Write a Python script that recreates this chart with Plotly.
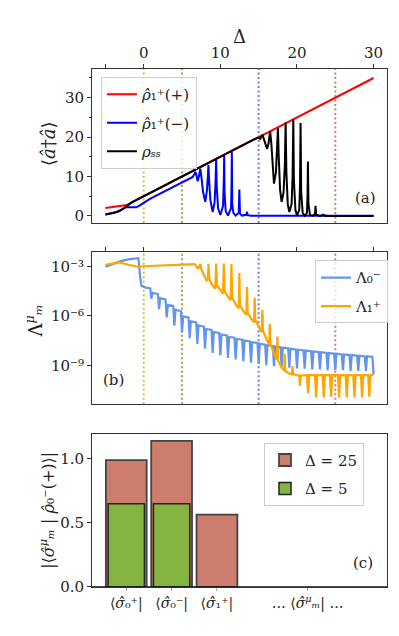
import numpy as np
import plotly.graph_objects as go

# dotted guide lines: detuning and colour
marker_deltas = [0, 5, 15, 25]
marker_colors = ["#c8c840", "#86b440", "#7c7ccf", "#c98070"]

# (a) photon number <a^dag a> vs detuning, (Delta, value)
rho1_plus = [(-5.0, 2.0), (-4.0, 2.3), (-3.0, 2.55), (-2.5, 2.65), (-2.2, 2.8), (-2.0, 3.0),
             (0.0, 5.0), (30.0, 35.0)]

rho1_minus = [(-5.0, 0.35), (-4.5, 0.5), (-4.0, 0.75), (-3.5, 1.05), (-3.0, 1.55), (-2.6, 1.95),
              (-2.2, 2.3), (-1.8, 2.2), (-1.35, 2.1), (-1.0, 2.2), (-0.5, 2.7), (0.0, 3.4),
              (0.5, 3.95), (1.0, 4.5), (3.0, 6.5), (5.0, 8.4), (6.0, 9.4), (6.4, 9.9),
              (6.6, 10.6), (6.75, 11.2), (6.9, 10.2), (7.04, 8.8), (7.2, 10.0), (7.39, 12.0),
              (7.55, 9.5), (7.75, 6.0), (8.03, 3.6), (8.25, 6.5), (8.35, 9.5), (8.45, 12.9),
              (8.55, 8.5), (8.7, 4.0), (9.0, 1.0), (9.25, 3.5), (9.37, 8.5), (9.45, 14.2),
              (9.53, 7.5), (9.7, 2.0), (10.0, 0.25), (10.35, 2.5), (10.45, 9.0), (10.5, 15.3),
              (10.55, 6.0), (10.7, 1.2), (11.0, 0.12), (11.4, 2.0), (11.47, 9.0), (11.5, 16.3),
              (11.55, 3.0), (11.7, 0.8), (12.0, 0.08), (12.4, 0.8), (12.48, 6.7), (12.56, 0.6),
              (12.8, 0.1), (13.4, 0.3), (13.48, 1.1), (13.56, 0.2), (14.0, 0.05), (30.0, 0.05)]

rho_ss = [(-5.0, 0.4), (-4.5, 0.55), (-4.0, 0.75), (-3.5, 1.0), (-3.0, 1.4), (-2.5, 2.1),
          (-2.0, 2.9), (-1.5, 3.5), (0.0, 5.0), (14.9, 19.9), (15.2, 19.55), (15.5, 20.6),
          (15.8, 18.8), (16.1, 17.0), (16.3, 18.5), (16.5, 21.5), (16.65, 18.5), (16.8, 12.5),
          (17.0, 8.2), (17.25, 11.0), (17.42, 16.5), (17.52, 22.3), (17.62, 15.0), (17.8, 6.5),
          (18.0, 3.6), (18.25, 6.0), (18.42, 13.0), (18.52, 23.8), (18.62, 11.0), (18.8, 3.0),
          (19.0, 1.0), (19.3, 3.0), (19.43, 10.0), (19.52, 24.5), (19.6, 9.0), (19.8, 1.5),
          (20.0, 0.15), (20.3, 1.5), (20.4, 8.0), (20.47, 23.6), (20.55, 6.0), (20.75, 0.7),
          (21.0, 0.05), (21.3, 0.8), (21.38, 5.0), (21.43, 13.8), (21.5, 3.0), (21.7, 0.3),
          (22.0, 0.02), (22.35, 0.5), (22.42, 2.6), (22.5, 0.3), (23.0, 0.02), (23.4, 0.2),
          (23.45, 0.45), (23.52, 0.1), (24.0, 0.02), (30.0, 0.02)]

# (b) log10 of the eigenvalue magnitudes, (Delta, log10 value)
lam0_minus = [(-5.0, -3.02), (-4.0, -2.83), (-3.0, -2.68), (-2.0, -2.57), (-1.0, -2.52),
              (-0.7, -2.5), (-0.45, -3.7), (-0.3, -4.17),
              (0.0, -4.24), (0.15, -4.27), (0.85, -4.33),
              (1.0, -4.96), (1.15, -4.6), (1.85, -4.68),
              (2.0, -5.6), (2.15, -4.93), (2.85, -5.02),
              (3.0, -6.1), (3.15, -5.33), (3.85, -5.4),
              (4.0, -6.6), (4.15, -5.63), (4.85, -5.72),
              (5.0, -7.0), (5.15, -6.03), (5.85, -6.1),
              (6.0, -7.35), (6.15, -6.33), (6.85, -6.4),
              (7.0, -7.7), (7.15, -6.58), (7.85, -6.65),
              (8.0, -8.0), (8.15, -6.8), (8.85, -6.86),
              (9.0, -8.25), (9.15, -6.98), (9.85, -7.04),
              (10.0, -8.4), (10.15, -7.13), (10.85, -7.19),
              (11.0, -8.55), (11.15, -7.28), (11.85, -7.33),
              (12.0, -8.65), (12.15, -7.4), (12.85, -7.45),
              (13.0, -8.75), (13.15, -7.5), (13.85, -7.55),
              (14.0, -8.85), (14.15, -7.6), (14.85, -7.65),
              (15.0, -8.9), (15.15, -7.7), (15.85, -7.75),
              (16.0, -9.0), (16.15, -7.78), (16.85, -7.83),
              (17.0, -9.05), (17.15, -7.86), (17.85, -7.9),
              (18.0, -9.1), (18.15, -7.93), (18.85, -7.97),
              (19.0, -9.15), (19.15, -8.0), (19.85, -8.04),
              (20.0, -9.2), (20.15, -8.06), (20.85, -8.1),
              (21.0, -9.2), (21.15, -8.11), (21.85, -8.15),
              (22.0, -9.25), (22.15, -8.16), (22.85, -8.2),
              (23.0, -9.25), (23.15, -8.21), (23.85, -8.25),
              (24.0, -9.3), (24.15, -8.26), (24.85, -8.3),
              (25.0, -9.3), (25.15, -8.3), (25.85, -8.34),
              (26.0, -9.3), (26.15, -8.34), (26.85, -8.38),
              (27.0, -9.35), (27.15, -8.38), (27.85, -8.42),
              (28.0, -9.35), (28.15, -8.42), (28.85, -8.46),
              (29.0, -9.35), (29.15, -8.45), (29.85, -8.5),
              (30.0, -9.55)]

lam1_plus = [(-5.0, -2.9), (-4.0, -2.82), (-3.2, -2.76), (-2.0, -2.9), (-0.8, -3.02), (0.0, -2.99),
             (2.0, -2.94), (4.0, -2.9), (6.6, -2.86),
             (6.85, -2.95), (7.05, -3.15), (7.25, -3.0), (7.4, -2.85),
             (7.5, -3.15), (7.8, -3.5), (8.2, -3.85), (8.38, -3.8), (8.45, -2.85),
             (8.55, -3.75), (8.9, -4.1), (9.35, -4.35), (9.45, -2.82),
             (9.55, -4.15), (10.0, -4.45), (10.35, -4.65), (10.45, -2.82),
             (10.55, -4.5), (11.0, -4.85), (11.35, -5.05), (11.45, -2.85),
             (11.55, -4.9), (12.0, -5.3), (12.4, -5.55), (12.48, -3.4),
             (12.56, -5.35), (13.0, -5.7), (13.4, -5.95), (13.48, -4.25),
             (13.56, -5.8), (14.0, -6.15), (14.4, -6.4), (14.48, -4.9),
             (14.56, -6.25), (15.0, -6.65), (15.4, -7.0), (15.48, -5.65),
             (15.56, -6.9), (16.0, -7.4), (16.38, -7.75), (16.45, -6.5),
             (16.53, -7.7), (17.0, -8.3), (17.38, -8.65), (17.45, -7.25),
             (17.52, -8.7), (18.0, -9.15), (18.33, -9.3), (18.4, -8.3),
             (18.47, -9.35), (19.0, -9.5), (19.35, -9.55), (19.42, -9.05),
             (19.5, -9.55), (20.0, -9.6), (20.3, -9.62), (20.4, -10.25), (20.5, -9.62),
             (21.3, -9.6), (21.45, -10.7), (21.6, -9.6),
             (22.35, -9.6), (22.5, -10.95), (22.65, -9.6),
             (23.35, -9.6), (23.5, -10.95), (23.65, -9.6),
             (24.3, -9.6), (24.45, -10.9), (24.6, -9.6),
             (25.35, -9.6), (25.5, -10.95), (25.65, -9.6),
             (26.35, -9.6), (26.5, -10.95), (26.65, -9.6),
             (27.35, -9.6), (27.5, -10.95), (27.65, -9.6),
             (28.35, -9.6), (28.5, -10.95), (28.65, -9.6),
             (29.3, -9.6), (29.45, -10.9), (29.6, -9.6),
             (30.0, -9.58)]

# (c) overlaps with the left eigenmatrices
bar_slots = [0, 1, 2]
overlap_d25 = [0.99, 1.14, 0.565]
bar_slots_d5 = [0, 1]
overlap_d5 = [0.65, 0.65]
slot_ticks = [0, 1, 2, 4]
slot_labels = ["⟨<i>σ̂</i>₀⁺|", "⟨<i>σ̂</i>₀⁻|", "⟨<i>σ̂</i>₁⁺|",
               "… ⟨<i>σ̂</i><sup><i>μ</i></sup><i>ₘ</i>| …"]

W, H = 399, 636
FONT = "DejaVu Serif"


def xy(points):
    xs, ys = zip(*points)
    return list(xs), list(ys)


def px_x(p):
    return p / W


def px_y(p):
    return 1 - p / H


fig = go.Figure()

# ---- panel (a)
for pts, name, color in [
    (rho1_plus, "<i>ρ̂</i>₁⁺(+)", "#ff0000"),
    (rho1_minus, "<i>ρ̂</i>₁⁺(−)", "#0000ff"),
    (rho_ss, "<i>ρₛₛ</i>", "#000000"),
]:
    x, y = xy(pts)
    fig.add_trace(go.Scatter(x=x, y=y, mode="lines", name=name, legend="legend",
                             legendgroup=name, line=dict(color=color, width=2),
                             xaxis="x", yaxis="y"))

# ---- panel (b)
for pts, name, color in [
    (lam0_minus, "Λ₀⁻", "#6495ed"),
    (lam1_plus, "Λ₁⁺", "#ffa500"),
]:
    x, ly = xy(pts)
    fig.add_trace(go.Scatter(x=x, y=np.power(10.0, ly), mode="lines", name=name, legend="legend2",
                             legendgroup=name, line=dict(color=color, width=2.2),
                             xaxis="x2", yaxis="y2"))

# ---- panel (c)
fig.add_trace(go.Bar(x=bar_slots, y=overlap_d25, width=0.9, name="Δ = 25", legend="legend3",
                     legendgroup="d25", marker=dict(color="#cd7d6e", line=dict(color="#444", width=1.8)),
                     xaxis="x3", yaxis="y3"))
fig.add_trace(go.Bar(x=bar_slots_d5, y=overlap_d5, width=0.8, name="Δ = 5", legend="legend3",
                     legendgroup="d5", marker=dict(color="#86b440", line=dict(color="#222", width=1.5)),
                     xaxis="x3", yaxis="y3"))

# dotted guide lines in (a) and (b)
shapes = []
for d, c in zip(marker_deltas, marker_colors):
    for xr, yr in [("x", "y domain"), ("x2", "y2 domain")]:
        shapes.append(dict(type="line", xref=xr, yref=yr, x0=d, x1=d, y0=0, y1=1, layer="below",
                           line=dict(color=c, width=2, dash="2px,2.5px")))
shapes.append(dict(type="line", xref="x3 domain", yref="y3", x0=0, x1=1, y0=0, y1=0,
                   line=dict(color="#111", width=1.5)))

frame = dict(showline=True, mirror=True, linecolor="#333", linewidth=1, showgrid=False,
             zeroline=False, ticks="outside", ticklen=4, tickcolor="#333",
             tickfont=dict(family=FONT, size=15, color="#222"))
xdom = [px_x(84), px_x(379)]
minus5_tick = dict(tickvals=[-5], ticks="outside", ticklen=4, tickcolor="#333")

legend_style = dict(bgcolor="rgba(255,255,255,0.8)", bordercolor="#cccccc", borderwidth=1,
                    font=dict(family=FONT, size=15, color="#222"), xanchor="left",
                    yanchor="top", tracegroupgap=6, itemwidth=30)

annotations = [
    dict(text="Δ", x=px_x(231), y=px_y(29), font=dict(size=18)),
    dict(text="(a)", x=px_x(357), y=px_y(193), font=dict(size=15)),
    dict(text="(b)", x=px_x(105), y=px_y(377), font=dict(size=15)),
    dict(text="(c)", x=px_x(355), y=px_y(563), font=dict(size=15)),
    dict(text="⟨<i>â</i>†<i>â</i>⟩", x=px_x(40), y=px_y(138), textangle=-90,
         font=dict(size=18)),
    dict(text="Λ<sup><i>μ</i></sup><i>ₘ</i>", x=px_x(26), y=px_y(318), textangle=-90,
         font=dict(size=18)),
    dict(text="|⟨<i>σ̂</i><sup><i>μ</i></sup><i>ₘ</i> | <i>ρ̂</i>₀⁻(+)⟩|",
         x=px_x(40), y=px_y(510), textangle=-90, font=dict(size=16)),
]
for a in annotations:
    a.update(xref="paper", yref="paper", showarrow=False, xanchor="center", yanchor="middle")
    a["font"].update(family=FONT, color="#222")

fig.update_layout(
    width=W, height=H, autosize=False,
    margin=dict(l=0, r=0, t=0, b=0),
    paper_bgcolor="white", plot_bgcolor="white",
    font=dict(family=FONT, size=15, color="#222"),
    barmode="overlay",
    xaxis=dict(frame, domain=xdom, anchor="y", side="top", range=[-6.75, 31.75],
               tickvals=[0, 10, 20, 30], minor=minus5_tick),
    yaxis=dict(frame, domain=[px_y(218), px_y(62)], anchor="x", range=[-1.76, 37.25],
               tickvals=[0, 10, 20, 30],
               minor=dict(tickvals=[5, 15, 25, 35], ticks="outside", ticklen=2, tickcolor="#333")),
    xaxis2=dict(frame, domain=xdom, anchor="y2", side="top", range=[-6.75, 31.75],
                tickvals=[0, 10, 20, 30], minor=minus5_tick, showticklabels=False),
    yaxis2=dict(frame, domain=[px_y(402), px_y(247.5)], anchor="x2", type="log",
                range=[-11.37, -2.125], tickvals=[1e-3, 1e-6, 1e-9],
                ticktext=["10⁻³", "10⁻⁶", "10⁻⁹"]),
    xaxis3=dict(frame, domain=xdom, anchor="y3", range=[-0.756, 5.75],
                tickvals=slot_ticks, ticktext=slot_labels, ticklen=3, tickcolor="#aaa",
                tickfont=dict(family=FONT, size=14, color="#222")),
    yaxis3=dict(frame, domain=[px_y(587.3), px_y(432.3)], anchor="x3", range=[0, 1.192],
                tickvals=[0, 0.5, 1.0], ticktext=["0.0", "0.5", "1.0"]),
    legend=dict(legend_style, x=px_x(93), y=px_y(70)),
    legend2=dict(legend_style, x=px_x(307), y=px_y(256)),
    legend3=dict(legend_style, x=px_x(256), y=px_y(441)),
    shapes=shapes,
    annotations=annotations,
    showlegend=True,
)

fig.write_html("out.html")
